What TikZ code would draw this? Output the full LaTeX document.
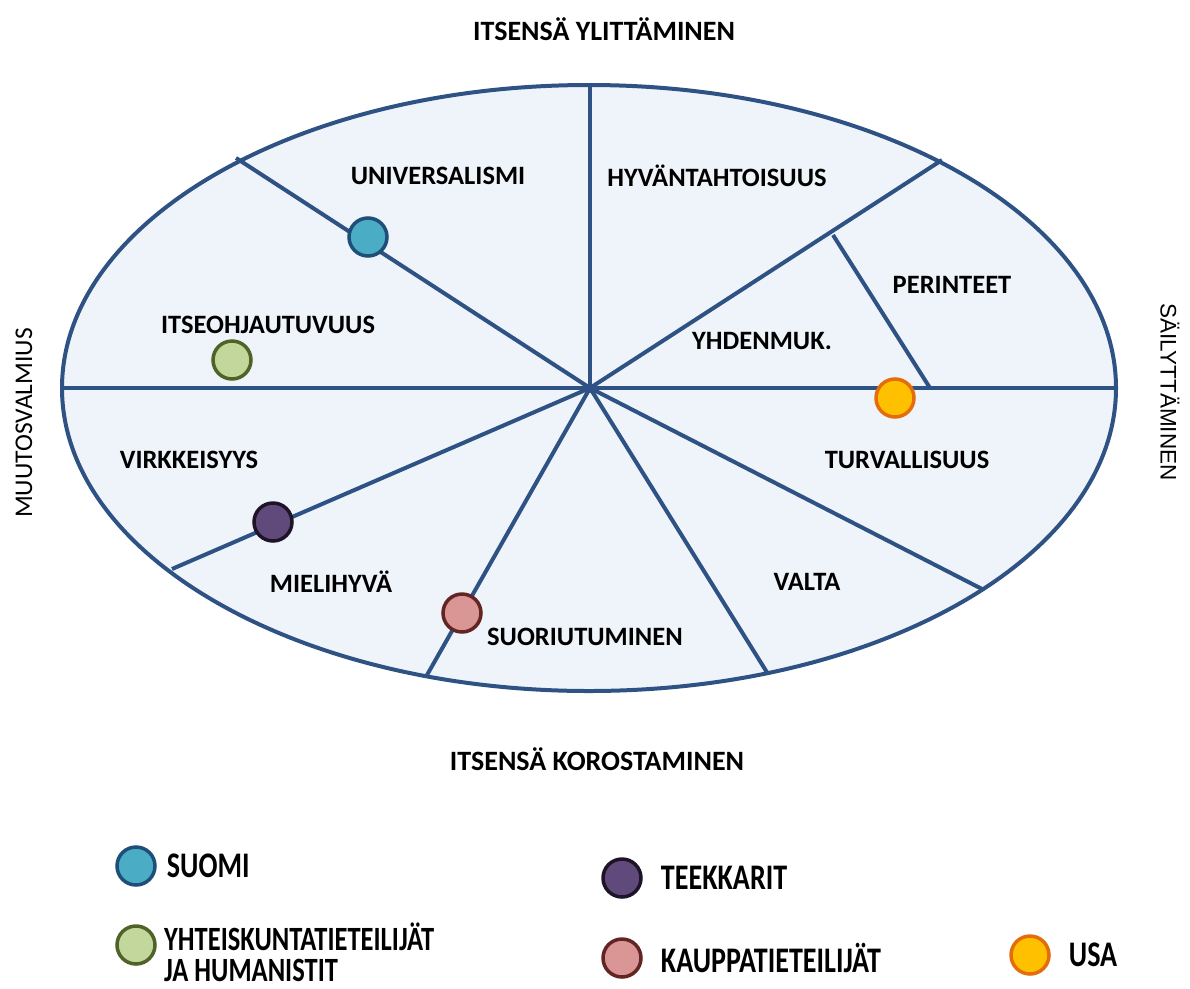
\documentclass[tikz,border=0pt]{standalone}
\usepackage{fontspec}
\setmainfont{Carlito}
\newfontfamily\kapeafont[FakeStretch=0.78]{Carlito}
\newfontfamily\arialfont{Liberation Sans}
\usepackage{xcolor}
\usetikzlibrary{positioning,calc}

\definecolor{linjat}{HTML}{2E5283}
\definecolor{taustasin}{HTML}{EFF4FA}
\definecolor{suomisin}{HTML}{4BACC6}
\definecolor{suomireuna}{HTML}{1F4E79}
\definecolor{humvihr}{HTML}{C3D69B}
\definecolor{humreuna}{HTML}{4F6228}
\definecolor{teekvio}{HTML}{604A7B}
\definecolor{teekreuna}{HTML}{1E1428}
\definecolor{kauppapun}{HTML}{D99694}
\definecolor{kauppareuna}{HTML}{632523}
\definecolor{usaokra}{HTML}{FFC000}
\definecolor{usareuna}{HTML}{E46C0A}

\begin{document}
\begin{tikzpicture}[x=1pt,y=-1pt,
    sektori/.style={font=\bfseries\fontsize{26.5}{26.5}\selectfont},
    akseli/.style={font=\bfseries\fontsize{28}{28}\selectfont},
    piste/.style={circle,minimum size=38pt,inner sep=0pt,line width=3.5pt},
    selite/.style={anchor=west,inner sep=2pt,font=\kapeafont\bfseries\fontsize{36}{36}\selectfont},
    raja/.style={draw=linjat,line width=4pt}]
    \useasboundingbox (0,0) rectangle (1190,988);

    % ellipsi ja sektorit
    \coordinate (keski) at (590,388);
    \filldraw[fill=taustasin,raja] (589,388) ellipse [x radius=527pt, y radius=303pt];
    \coordinate (vasen) at (62,388);
    \coordinate (oikea) at (1116,388);
    \coordinate (ylos) at (590,85);
    \coordinate (vasylos) at (236,158);
    \coordinate (oikylos) at (942,160);
    \coordinate (vasala) at (172,569);
    \coordinate (ala) at (427,675);
    \coordinate (oikala) at (768,674);
    \coordinate (oikala2) at (982,589);
    \coordinate (perin1) at (833,235);
    \coordinate (perin2) at (930,388);
    \draw[raja] (vasen) -- (oikea);
    \draw[raja] (keski) -- (ylos);
    \draw[raja] (keski) -- (vasylos);
    \draw[raja] (keski) -- (oikylos);
    \draw[raja] (keski) -- (vasala);
    \draw[raja] (keski) -- (ala);
    \draw[raja] (keski) -- (oikala);
    \draw[raja] (keski) -- (oikala2);
    \draw[raja] (perin1) -- (perin2);
    \fill[linjat] (keski) circle (5pt);

    \node[sektori] (universalismi) at (438,176) {UNIVERSALISMI};
    \node[sektori] (hyvantahto) at (717,176) {HYVÄNTAHTOISUUS};
    \node[sektori] (perinteet) at (952,285) {PERINTEET};
    \node[sektori] (yhdenmuk) at (762,341) {YHDENMUK.};
    \node[sektori] (itseohj) at (268,325) {ITSEOHJAUTUVUUS};
    \node[sektori] (virkkeisyys) at (189,460) {VIRKKEISYYS};
    \node[sektori] (turvallisuus) at (907,460) {TURVALLISUUS};
    \node[sektori] (mielihyva) at (331,582) {MIELIHYVÄ};
    \node[sektori] (valta) at (807,582) {VALTA};
    \node[sektori,anchor=west,inner sep=0pt] (suoriutuminen) at (487,637) {SUORIUTUMINEN};

    % ryhmien pisteet
    \node[piste,fill=suomisin,draw=suomireuna] (suomi) at (368,237) {};
    \node[piste,fill=humvihr,draw=humreuna] (humanistit) at (232,360) {};
    \node[piste,fill=teekvio,draw=teekreuna] (teekkarit) at (273,522) {};
    \node[piste,fill=kauppapun,draw=kauppareuna] (kauppa) at (462,613) {};
    \node[piste,fill=usaokra,draw=usareuna] (usa) at (895,398) {};

    % akselit
    \node[akseli] (ylittaminen) at (604,29) {ITSENSÄ YLITTÄMINEN};
    \node[akseli] (korostaminen) at (597,759) {ITSENSÄ KOROSTAMINEN};
    \node[rotate=90,font=\fontsize{25.5}{25.5}\selectfont] (muutos) at (24,423) {MUUTOSVALMIUS};
    \node[rotate=-90,font=\arialfont\fontsize{22.5}{22.5}\selectfont] (sailytys) at (1170,392) {SÄILYTTÄMINEN};

    % selitteet
    \node[piste,fill=suomisin,draw=suomireuna] (lsuomi) at (136,866) {};
    \node[selite,right=8pt of lsuomi] (tsuomi) {SUOMI};
    \node[piste,fill=teekvio,draw=teekreuna] (lteek) at (622,878) {};
    \node[selite,right=16pt of lteek] (tteek) {TEEKKARIT};
    \node[piste,fill=humvihr,draw=humreuna] (lhum) at (136,945) {};
    \node[selite,font=\kapeafont\bfseries\fontsize{34}{34}\selectfont] (thum) at (162,937) {YHTEISKUNTATIETEILIJÄT};
    \node[selite,font=\kapeafont\bfseries\fontsize{34}{34}\selectfont] (thum2) at (162,970) {JA HUMANISTIT};
    \node[piste,fill=kauppapun,draw=kauppareuna] (lkauppa) at (622,958) {};
    \node[selite,right=16pt of lkauppa] (tkauppa) {KAUPPATIETEILIJÄT};
    \node[piste,fill=usaokra,draw=usareuna] (lusa) at (1030,955) {};
    \node[selite,right=16pt of lusa] (tusa) {USA};
\end{tikzpicture}
\end{document}
